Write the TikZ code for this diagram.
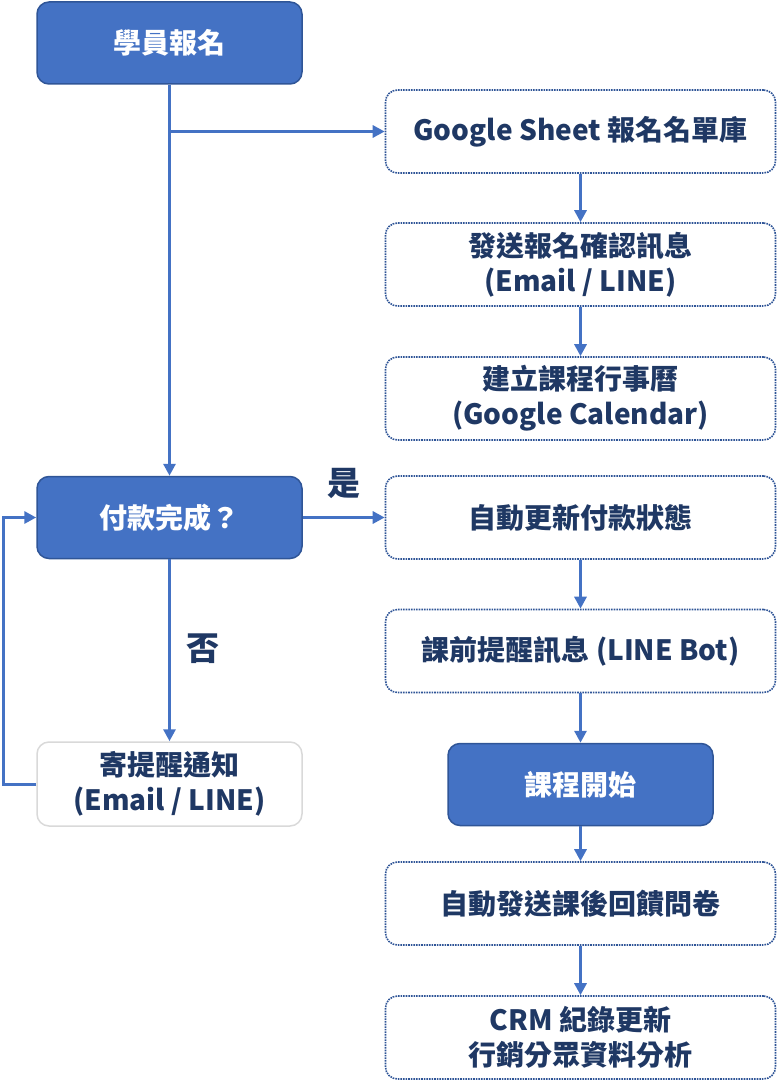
\documentclass[tikz,border=0pt]{standalone}
\usepackage{fontspec}
\setmainfont{Noto Sans CJK TC}
\usepackage{tikz}
\usetikzlibrary{positioning, arrows.meta}
\definecolor{flowblue}{HTML}{4472C4}
\definecolor{flowedge}{HTML}{2F5597}
\definecolor{flownavy}{HTML}{1F3864}
\definecolor{flowgray}{HTML}{D9D9D9}

\begin{document}
\begin{tikzpicture}[x=1pt, y=-1pt, font=\fontsize{28}{35}\selectfont\bfseries]

	\tikzstyle{mainbox}=[rectangle, rounded corners=12pt, minimum width=265pt, minimum height=82pt, align=center, draw=flowedge, line width=1.5pt, fill=flowblue, text=white]
	\tikzstyle{autobox}=[rectangle, rounded corners=12pt, minimum width=390pt, minimum height=83pt, align=center, draw=flowedge, line width=1.6pt, densely dotted, text=flownavy]
	\tikzstyle{notebox}=[rectangle, rounded corners=12pt, minimum width=265pt, minimum height=84pt, align=center, draw=flowgray, line width=1.5pt, text=flownavy]
	\tikzstyle{arc}=[-{Triangle[length=12pt, width=12pt]}, line width=3pt, flowblue]
	\tikzstyle{answer}=[text=flownavy, font=\fontsize{33}{36}\selectfont\bfseries]

	\useasboundingbox (0,0) rectangle (777,1091);

	% placement des noeuds
	\node[mainbox] 	(signup) at (169.5,43) 	{學員報名};
	\node[mainbox] 	(paid) at (169.5,517.5) 	{付款完成？};
	\node[notebox] 	(remind) at (169.5,784) 	{寄提醒通知\\(Email / LINE)};

	\node[autobox] 	(sheet) at (580.5,131.5) 	{Google Sheet 報名名單庫};
	\node[autobox] 	(confirm) at (580.5,264.5) 	{發送報名確認訊息\\(Email / LINE)};
	\node[autobox] 	(calendar) at (580.5,398.5) 	{建立課程行事曆\\(Google Calendar)};
	\node[autobox] 	(status) at (580.5,517.5) 	{自動更新付款狀態};
	\node[autobox] 	(prenotice) at (580.5,651) 	{課前提醒訊息 (LINE Bot)};
	\node[mainbox] 	(start) at (580.5,784.5) 	{課程開始};
	\node[autobox] 	(survey) at (580.5,903.5) 	{自動發送課後回饋問卷};
	\node[autobox] 	(crm) at (580.5,1037.5) 	{CRM 紀錄更新\\行銷分眾資料分析};

	% fleches
	\draw[arc] (signup.south) -- (paid.north);
	\coordinate (branch) at (signup.south |- sheet.west);
	\draw[arc] (branch) -- (sheet.west);
	\draw[arc] (sheet.south) -- (confirm.north);
	\draw[arc] (confirm.south) -- (calendar.north);
	\draw[arc] (paid.east) -- (status.west) node[answer, pos=0.5, above=14pt] {是};
	\draw[arc] (status.south) -- (prenotice.north);
	\draw[arc] (prenotice.south) -- (start.north);
	\draw[arc] (start.south) -- (survey.north);
	\draw[arc] (survey.south) -- (crm.north);
	\draw[arc] (paid.south) -- (remind.north) node[answer, pos=0.49, right=12pt] {否};
	\draw[arc] (remind.west) -- ++(-33,0) |- (paid.west);

\end{tikzpicture}
\end{document}
